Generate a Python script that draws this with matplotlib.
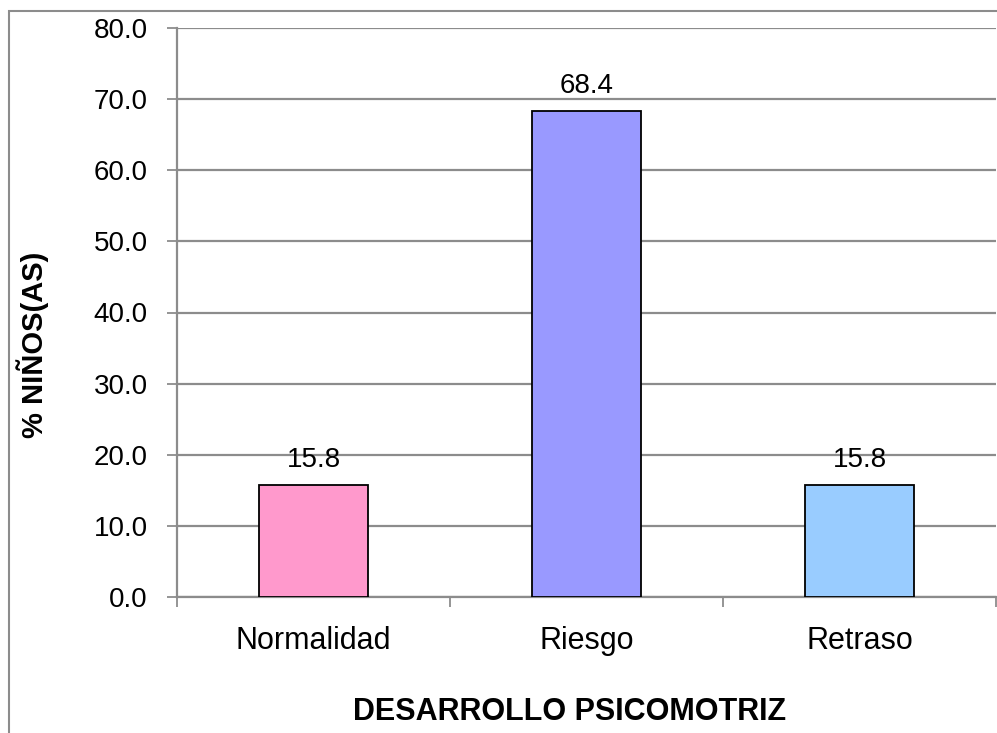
import matplotlib.pyplot as plt
from matplotlib.patches import Rectangle

categorias = ['Normalidad', 'Riesgo', 'Retraso']
porcentajes = [15.8, 68.4, 15.8]
colores = ['#FF99CC', '#9999FF', '#99CCFF']

plt.rcParams['font.family'] = ['Liberation Sans', 'DejaVu Sans']

fig = plt.figure(figsize=(9.97, 7.33), dpi=100)
W, H = 997, 733

# borde exterior del gráfico (recortado a la derecha y abajo)
fig.patches.append(Rectangle((9 / W, -0.1), 1.2, 1 - 11 / H + 0.1,
                             transform=fig.transFigure, fill=False,
                             edgecolor='#8c8c8c', linewidth=1.5))

ax = fig.add_axes([177 / W, 1 - 597 / H, (996 - 177) / W, (597 - 28) / H])

x = range(len(categorias))
barras = ax.bar(x, porcentajes, width=0.4, color=colores, edgecolor='black',
                linewidth=1.3, zorder=3)

for b, v in zip(barras, porcentajes):
    ax.text(b.get_x() + b.get_width() / 2, v + 1.6, f'{v:.1f}',
            ha='center', va='bottom', fontsize=20)

ax.set_xlim(-0.5, 2.5)
ax.set_ylim(0, 80)
ax.set_yticks(range(0, 81, 10))
ax.set_yticklabels([f'{t:.1f}' for t in range(0, 81, 10)], fontsize=20)
ax.yaxis.grid(True, color='#8c8c8c', linewidth=1.6, zorder=0)
ax.set_axisbelow(True)

# ticks del eje x en los límites de categoría, etiquetas centradas
ax.set_xticks([-0.5, 0.5, 1.5, 2.5])
ax.set_xticklabels([])
ax.set_xticks(list(x), minor=True)
ax.set_xticklabels(categorias, minor=True, fontsize=22)
ax.tick_params(axis='x', which='minor', length=0, pad=21)
ax.tick_params(axis='x', which='major', length=7, width=1.3, color='#8c8c8c')
ax.tick_params(axis='y', length=7, width=1.3, color='#8c8c8c', pad=14)

for s in ['top', 'right']:
    ax.spines[s].set_visible(False)
for s in ['left', 'bottom']:
    ax.spines[s].set_color('#8c8c8c')
    ax.spines[s].set_linewidth(1.6)

fig.text(33 / W, 1 - 345 / H, '% NIÑOS(AS)', rotation=90, ha='center',
         va='center', fontsize=21, fontweight='bold')
fig.text(570 / W, 1 - 712 / H, 'DESARROLLO PSICOMOTRIZ', ha='center',
         va='center', fontsize=22, fontweight='bold')

fig.savefig('out.png', dpi=100)
